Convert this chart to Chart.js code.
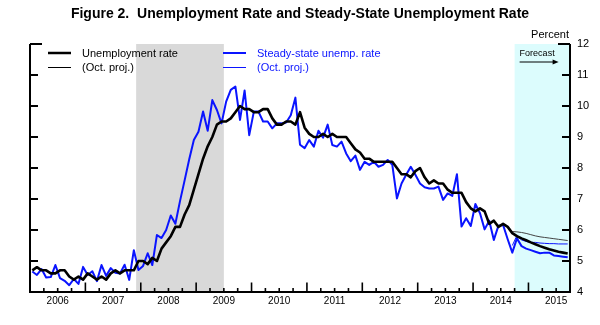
<!DOCTYPE html>
<html><head><meta charset="utf-8">
<script src="https://cdn.jsdelivr.net/npm/chart.js@4.4.0/dist/chart.umd.min.js"></script>
<style>html,body{margin:0;padding:0;background:#fff}#wrap{width:600px;height:325px}</style>
</head><body><div id="wrap"><canvas id="c" width="600" height="325"></canvas></div>
<script>
// ---- data (monthly, Jan 2006 .. Sep 2015) ----
const startYear = 2006;
const yearLabels = [2006, 2007, 2008, 2009, 2010, 2011, 2012, 2013, 2014, 2015];
const yTickValues = [4, 5, 6, 7, 8, 9, 10, 11, 12];
const recession = [2007 + 11/12, 2009.5];
const forecastStart = 2014.75;

const unempRate = [
  4.7, 4.8, 4.7, 4.7, 4.6, 4.6, 4.7, 4.7, 4.5, 4.4, 4.5, 4.4,
  4.6, 4.5, 4.4, 4.5, 4.4, 4.6, 4.7, 4.6, 4.7, 4.7, 4.7, 5.0,
  5.0, 4.9, 5.1, 5.0, 5.4, 5.6, 5.8, 6.1, 6.1, 6.5, 6.8, 7.3,
  7.8, 8.3, 8.7, 9.0, 9.4, 9.5, 9.5, 9.6, 9.8, 10.0, 9.9, 9.9,
  9.8, 9.8, 9.9, 9.9, 9.6, 9.4, 9.4, 9.5, 9.5, 9.4, 9.8, 9.3,
  9.1, 9.0, 9.0, 9.1, 9.0, 9.1, 9.0, 9.0, 9.0, 8.8, 8.6, 8.5,
  8.3, 8.3, 8.2, 8.2, 8.2, 8.2, 8.2, 8.0, 7.8, 7.8, 7.7, 7.9,
  8.0, 7.7, 7.5, 7.6, 7.5, 7.5, 7.3, 7.2, 7.2, 7.2, 6.9, 6.7,
  6.6, 6.7, 6.6, 6.2, 6.3, 6.1, 6.2, 6.1, 5.9, 5.8, 5.73, 5.67,
  5.6, 5.54, 5.48, 5.43, 5.38, 5.34, 5.3, 5.27, 5.24
];
const steadyState = [
  4.66, 4.55, 4.74, 4.47, 4.48, 4.87, 4.45, 4.36, 4.22, 4.42, 4.26, 4.81,
  4.55, 4.67, 4.35, 4.87, 4.52, 4.77, 4.62, 4.6, 4.88, 4.39, 5.35, 4.71,
  4.84, 5.25, 4.87, 5.84, 5.74, 6.0, 6.47, 6.2, 6.93, 7.6, 8.28, 8.9,
  9.17, 9.82, 9.2, 10.19, 9.87, 9.44, 10.14, 10.52, 10.63, 9.55, 10.5, 9.06,
  9.82, 9.82, 9.5, 9.5, 9.28, 9.44, 9.44, 9.47, 9.7, 10.27, 8.75, 8.64,
  8.9, 8.69, 9.2, 8.98, 9.4, 8.74, 8.69, 8.85, 8.47, 8.22, 8.4, 7.94,
  8.2, 8.1, 8.2, 8.04, 8.1, 8.26, 8.1, 7.02, 7.5, 7.78, 8.04, 7.78,
  7.5, 7.38, 7.34, 7.34, 7.4, 6.97, 7.18, 7.1, 7.8, 6.11, 6.38, 6.13,
  6.84, 6.54, 6.02, 6.3, 5.68, 6.14, 6.16, 5.7, 5.27, 5.73, 5.48, 5.4,
  5.35, 5.3, 5.25, 5.27, 5.27, 5.18, 5.16, 5.14, 5.12
];
const projStartIndex = 104; // Sep 2014
const unempOctProj = [5.95, 5.94, 5.92, 5.89, 5.85, 5.81, 5.78, 5.76, 5.74, 5.72, 5.7, 5.68, 5.66];
const steadyOctProj = [5.5, 5.82, 5.68, 5.63, 5.6, 5.6, 5.58, 5.57, 5.56, 5.56, 5.55, 5.55, 5.55];

const FONT = "'Liberation Sans', Arial, Helvetica, sans-serif";
const BLUE = '#0a14ff';

function monthX(i) { return startYear + (i + 0.5) / 12; }
function toPoints(arr, offset) { return arr.map((v, i) => ({x: monthX(i + (offset || 0)), y: v})); }

const decor = {
  id: 'decor',
  beforeDatasetsDraw(chart) {
    const {ctx, chartArea: a, scales: {x}} = chart;
    ctx.save();
    const r0 = x.getPixelForValue(recession[0]), r1 = x.getPixelForValue(recession[1]);
    ctx.fillStyle = '#d9d9d9';
    ctx.fillRect(r0, a.top, r1 - r0, a.bottom - a.top);
    const f0 = x.getPixelForValue(forecastStart);
    ctx.fillStyle = '#dcfcfd';
    ctx.fillRect(f0, a.top, a.right - f0, a.bottom - a.top);
    ctx.restore();
  },
  afterDraw(chart) {
    const {ctx, chartArea: a, scales: {x, y}} = chart;
    ctx.save();
    ctx.strokeStyle = '#000';
    ctx.lineWidth = 2;
    ctx.lineCap = 'butt';
    // axes
    ctx.beginPath();
    ctx.moveTo(a.left, a.top); ctx.lineTo(a.left, a.bottom); ctx.lineTo(a.right, a.bottom); ctx.lineTo(a.right, a.top);
    ctx.stroke();
    // y ticks (inward, both sides)
    yTickValues.forEach(v => {
      if (v === yTickValues[0]) return;
      const py = y.getPixelForValue(v);
      const len = (v === yTickValues[yTickValues.length - 1]) ? 12 : 8;
      ctx.beginPath();
      ctx.moveTo(a.left, py); ctx.lineTo(a.left + len, py);
      ctx.moveTo(a.right - len, py); ctx.lineTo(a.right, py);
      ctx.stroke();
    });
    // x ticks: quarters short, years long
    ctx.lineWidth = 1.6;
    for (let q = 1; q < (yearLabels.length) * 4 - 1; q++) {
      const v = startYear + q / 4;
      const px = x.getPixelForValue(v);
      const len = (q % 4 === 0) ? 9.5 : 4;
      ctx.beginPath();
      ctx.moveTo(px, a.bottom); ctx.lineTo(px, a.bottom - len);
      ctx.stroke();
    }
    // Percent label
    ctx.fillStyle = '#000';
    ctx.font = '11px ' + FONT;
    ctx.textAlign = 'right';
    ctx.textBaseline = 'middle';
    ctx.fillText('Percent', a.right - 1, a.top - 9);
    // legend
    const L = a.left;
    const rows = [a.top + 9, a.top + 23.5];
    ctx.textAlign = 'left';
    ctx.font = '11px ' + FONT;
    const items = [
      {x0: L + 18, color: '#000', w: 2.5, row: 0, text: 'Unemployment rate', tc: '#000'},
      {x0: L + 18, color: '#000', w: 1, row: 1, text: '(Oct. proj.)', tc: '#000'},
      {x0: L + 193, color: BLUE, w: 2, row: 0, text: 'Steady-state unemp. rate', tc: BLUE},
      {x0: L + 193, color: BLUE, w: 1, row: 1, text: '(Oct. proj.)', tc: BLUE}
    ];
    items.forEach(it => {
      const yy = rows[it.row];
      ctx.strokeStyle = it.color; ctx.lineWidth = it.w;
      ctx.beginPath(); ctx.moveTo(it.x0, yy); ctx.lineTo(it.x0 + 23, yy); ctx.stroke();
      ctx.fillStyle = it.tc;
      ctx.fillText(it.text, it.x0 + 34, yy + 0.5);
    });
    // Forecast label + arrow
    const fx = x.getPixelForValue(forecastStart) + 5;
    ctx.fillStyle = '#000';
    ctx.font = '9px ' + FONT;
    ctx.fillText('Forecast', fx, a.top + 10);
    ctx.strokeStyle = '#000'; ctx.lineWidth = 1;
    ctx.beginPath(); ctx.moveTo(fx, a.top + 18); ctx.lineTo(fx + 34, a.top + 18); ctx.stroke();
    ctx.beginPath();
    ctx.moveTo(fx + 39, a.top + 18); ctx.lineTo(fx + 33, a.top + 15.5); ctx.lineTo(fx + 33, a.top + 20.5); ctx.closePath();
    ctx.fill();
    ctx.restore();
  }
};

new Chart(document.getElementById('c'), {
  type: 'line',
  data: {
    datasets: [
      {label: 'Unemployment rate', data: toPoints(unempRate), borderColor: '#000', borderWidth: 2.6, order: 1},
      {label: 'Steady-state unemp. rate', data: toPoints(steadyState), borderColor: BLUE, borderWidth: 2, order: 2},
      {label: 'Unemployment rate (Oct. proj.)', data: toPoints(unempOctProj, projStartIndex), borderColor: '#444', borderWidth: 1, order: 3},
      {label: 'Steady-state (Oct. proj.)', data: toPoints(steadyOctProj, projStartIndex), borderColor: BLUE, borderWidth: 1, order: 4}
    ]
  },
  options: {
    responsive: false,
    animation: false,
    devicePixelRatio: 1,
    layout: {padding: 0},
    elements: {point: {radius: 0}, line: {tension: 0, borderJoinStyle: 'round', fill: false}},
    plugins: {
      legend: {display: false},
      tooltip: {enabled: false},
      title: {
        display: true,
        text: 'Figure 2.  Unemployment Rate and Steady-State Unemployment Rate',
        color: '#000',
        font: {family: FONT, size: 14, weight: 'bold', lineHeight: 1.2},
        padding: {top: 6, bottom: 21.2}
      }
    },
    scales: {
      x: {
        type: 'linear', position: 'bottom', min: startYear, max: 2015.75,
        afterBuildTicks: s => { s.ticks = yearLabels.map(v => ({value: v + 0.5})); },
        afterFit: s => { s.height = 33; },
        grid: {display: false, drawTicks: false},
        border: {display: false},
        ticks: {autoSkip: false, maxRotation: 0, padding: 3, color: '#000',
                font: {family: FONT, size: 10}, callback: v => String(Math.floor(v))}
      },
      y: {
        type: 'linear', position: 'right', min: 4, max: 12,
        afterBuildTicks: s => { s.ticks = yTickValues.map(v => ({value: v})); },
        afterFit: s => { s.width = 30; },
        grid: {display: false, drawTicks: false},
        border: {display: false},
        ticks: {padding: 7, color: '#000', font: {family: FONT, size: 11}, callback: v => String(v)}
      },
      yl: {
        type: 'linear', position: 'left', min: 4, max: 12,
        afterFit: s => { s.width = 30; },
        grid: {display: false, drawTicks: false},
        border: {display: false},
        ticks: {display: false}
      }
    }
  },
  plugins: [decor]
});
</script></body></html>
